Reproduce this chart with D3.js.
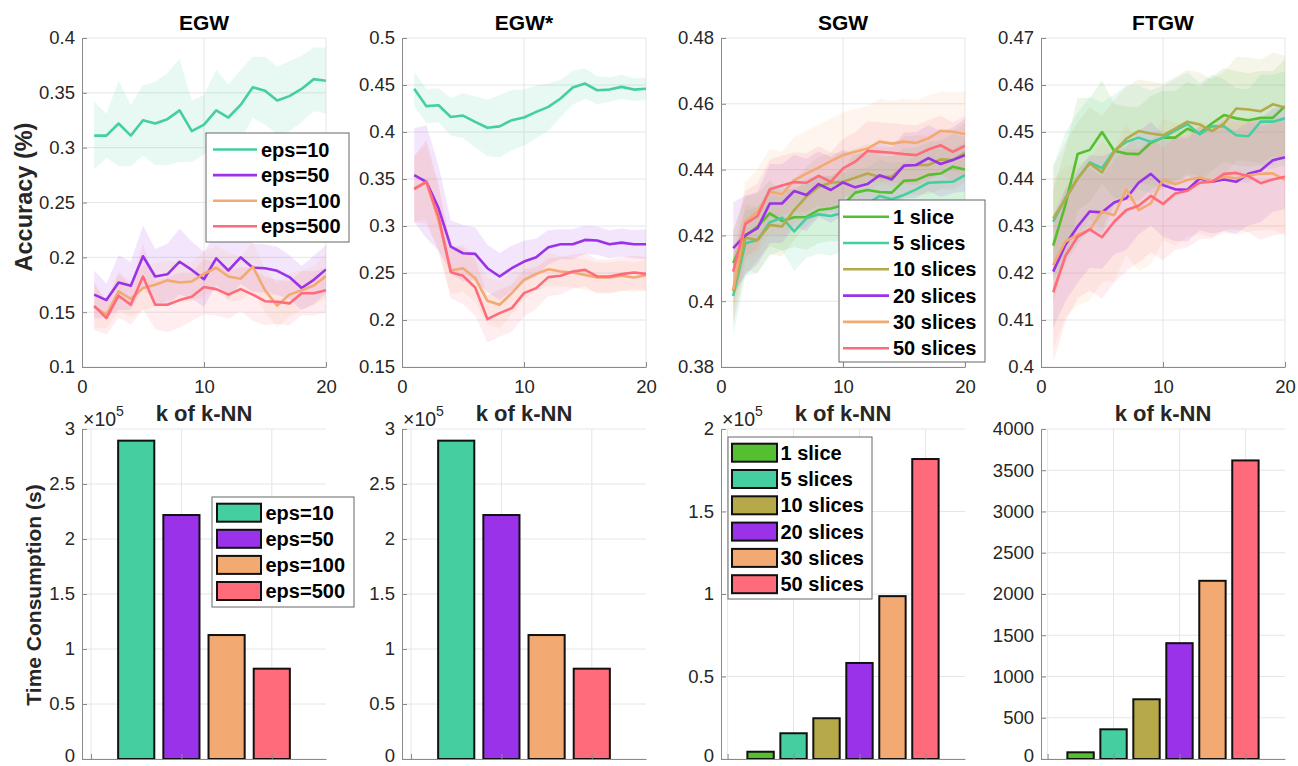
<!DOCTYPE html>
<html><head><meta charset="utf-8">
<script src="https://cdn.jsdelivr.net/npm/d3@7"></script>
<style>body{margin:0;background:#fff}svg{display:block;font-family:"Liberation Sans",Arial,Helvetica,sans-serif}</style>
</head><body><svg id="c" width="1298" height="766"></svg>
<script>
// ---------------- DATA ----------------
const kValues = [1,2,3,4,5,6,7,8,9,10,11,12,13,14,15,16,17,18,19,20];
const epsNames = ["eps=10","eps=50","eps=100","eps=500"];
const sliceNames = ["1 slice","5 slices","10 slices","20 slices","30 slices","50 slices"];
const epsColors = ["#45CFA0","#9932E8","#F2A972","#FF6B7B"];
const sliceColors = ["#55C02F","#45CFA0","#B5A94A","#9932E8","#F2A972","#FF6B7B"];
const panelTitles = ["EGW","EGW*","SGW","FTGW"];

// EGW accuracy (mean, std)
const egw10 = [0.311,0.311,0.322,0.311,0.325,0.322,0.326,0.334,0.315,0.321,0.334,0.3275,0.339,0.355,0.352,0.343,0.347,0.3535,0.3625,0.361];
const egw10sd = [0.031,0.020,0.039,0.028,0.032,0.038,0.042,0.047,0.028,0.027,0.037,0.030,0.032,0.028,0.031,0.031,0.032,0.030,0.029,0.030];
const egw50 = [0.166,0.161,0.177,0.174,0.201,0.1825,0.1845,0.196,0.1885,0.180,0.199,0.188,0.200,0.1905,0.190,0.1877,0.182,0.172,0.1795,0.189];
const egw50sd = [0.022,0.015,0.025,0.022,0.028,0.025,0.028,0.030,0.026,0.025,0.024,0.026,0.024,0.022,0.022,0.022,0.020,0.020,0.022,0.022];
const egw100 = [0.155,0.1475,0.169,0.162,0.172,0.175,0.179,0.177,0.178,0.185,0.1905,0.1825,0.1805,0.1915,0.170,0.156,0.166,0.170,0.1743,0.183];
const egw100sd = [0.020,0.012,0.018,0.016,0.020,0.020,0.018,0.018,0.018,0.020,0.020,0.022,0.020,0.022,0.020,0.020,0.020,0.018,0.018,0.020];
const egw500 = [0.1558,0.1446,0.165,0.1567,0.1825,0.1567,0.1567,0.161,0.164,0.173,0.171,0.166,0.171,0.166,0.160,0.1595,0.158,0.1673,0.1673,0.170];
const egw500sd = [0.022,0.015,0.020,0.018,0.030,0.022,0.025,0.025,0.022,0.025,0.024,0.022,0.020,0.024,0.022,0.020,0.020,0.020,0.020,0.020];

// EGW* accuracy
const egws10 = [0.446,0.4275,0.4285,0.416,0.4175,0.4108,0.4045,0.406,0.4126,0.4154,0.4214,0.4267,0.4356,0.4473,0.4515,0.4444,0.4451,0.448,0.4451,0.446];
const egws10sd = [0.018,0.018,0.018,0.020,0.024,0.027,0.030,0.033,0.032,0.030,0.028,0.025,0.020,0.018,0.016,0.015,0.013,0.013,0.012,0.012];
const egws50 = [0.3542,0.347,0.3188,0.278,0.271,0.2703,0.2551,0.2463,0.2551,0.2622,0.2668,0.2774,0.2806,0.2806,0.2852,0.2845,0.2806,0.2823,0.2806,0.2806];
const egws50sd = [0.050,0.060,0.045,0.028,0.030,0.028,0.025,0.025,0.024,0.022,0.020,0.018,0.016,0.016,0.015,0.015,0.015,0.015,0.015,0.016];
const egws100 = [0.340,0.347,0.306,0.2526,0.2551,0.2445,0.2204,0.2162,0.2286,0.2427,0.2491,0.254,0.2516,0.2505,0.248,0.2452,0.2452,0.247,0.2452,0.2477];
const egws100sd = [0.035,0.040,0.035,0.025,0.025,0.025,0.025,0.025,0.022,0.020,0.018,0.018,0.016,0.016,0.016,0.016,0.016,0.016,0.016,0.016];
const egws500 = [0.3393,0.347,0.3097,0.2509,0.247,0.2346,0.201,0.2073,0.2126,0.2286,0.2339,0.2456,0.247,0.2516,0.2533,0.2463,0.2463,0.2488,0.2505,0.2491];
const egws500sd = [0.035,0.045,0.035,0.028,0.030,0.030,0.025,0.025,0.025,0.025,0.022,0.020,0.020,0.018,0.018,0.018,0.018,0.018,0.018,0.018];

// SGW accuracy
const sgw1 = [0.4116,0.4198,0.4227,0.4267,0.4244,0.4255,0.4256,0.4277,0.4282,0.4292,0.433,0.4338,0.4332,0.433,0.4366,0.4368,0.4384,0.4388,0.4409,0.440];
const sgw1sd = [0.010,0.012,0.010,0.010,0.009,0.009,0.010,0.010,0.010,0.011,0.012,0.012,0.011,0.011,0.010,0.010,0.010,0.010,0.010,0.010];
const sgw5 = [0.4016,0.4176,0.4186,0.424,0.4254,0.4212,0.4252,0.4264,0.4259,0.4269,0.4279,0.4295,0.432,0.431,0.4323,0.434,0.436,0.4362,0.4363,0.4383];
const sgw5sd = [0.012,0.010,0.010,0.010,0.010,0.012,0.012,0.012,0.012,0.012,0.012,0.011,0.011,0.011,0.010,0.010,0.010,0.010,0.010,0.010];
const sgw10 = [0.403,0.4193,0.4186,0.4232,0.4227,0.4277,0.4318,0.4348,0.436,0.4363,0.4375,0.4388,0.4378,0.4378,0.4411,0.4414,0.4414,0.4431,0.4429,0.4451];
const sgw10sd = [0.010,0.010,0.010,0.009,0.009,0.009,0.009,0.009,0.009,0.009,0.009,0.009,0.009,0.009,0.009,0.009,0.009,0.009,0.009,0.009];
const sgw20 = [0.4161,0.4201,0.4222,0.4297,0.4297,0.4335,0.4323,0.4356,0.4338,0.4361,0.4346,0.4356,0.4383,0.437,0.4412,0.4414,0.4435,0.4417,0.4429,0.4444];
const sgw20sd = [0.014,0.012,0.011,0.012,0.012,0.011,0.011,0.010,0.010,0.010,0.010,0.010,0.010,0.010,0.010,0.010,0.010,0.010,0.010,0.011];
const sgw30 = [0.4035,0.4242,0.4272,0.4333,0.4325,0.4368,0.4388,0.4406,0.4426,0.4444,0.4454,0.4464,0.4485,0.4479,0.4485,0.4481,0.4495,0.4518,0.4515,0.4508];
const sgw30sd = [0.010,0.012,0.013,0.013,0.013,0.013,0.013,0.013,0.013,0.013,0.013,0.013,0.013,0.013,0.013,0.013,0.013,0.012,0.012,0.013];
const sgw50 = [0.409,0.4235,0.4259,0.434,0.4352,0.4362,0.436,0.4381,0.4363,0.4404,0.4424,0.4457,0.4454,0.4451,0.4447,0.4444,0.4461,0.4474,0.4454,0.4472];
const sgw50sd = [0.012,0.010,0.010,0.009,0.009,0.009,0.009,0.009,0.009,0.009,0.009,0.009,0.009,0.009,0.009,0.009,0.009,0.009,0.009,0.009];

// FTGW accuracy
const ftgw1 = [0.4258,0.4345,0.4453,0.4462,0.450,0.446,0.4454,0.4453,0.4477,0.4488,0.4488,0.4507,0.4497,0.4518,0.4536,0.4529,0.4525,0.453,0.453,0.4555];
const ftgw1sd = [0.012,0.012,0.012,0.011,0.011,0.010,0.010,0.010,0.010,0.010,0.010,0.010,0.010,0.010,0.010,0.010,0.010,0.010,0.010,0.010];
const ftgw5 = [0.4309,0.4359,0.4401,0.4435,0.4423,0.446,0.4479,0.4488,0.4479,0.4488,0.4503,0.4517,0.4495,0.4512,0.4512,0.4493,0.4491,0.4522,0.4522,0.4529];
const ftgw5sd = [0.012,0.014,0.014,0.014,0.014,0.012,0.012,0.011,0.011,0.011,0.011,0.011,0.011,0.011,0.010,0.010,0.010,0.010,0.010,0.010];
const ftgw10 = [0.4316,0.4357,0.4401,0.4433,0.4414,0.4458,0.4486,0.4502,0.4497,0.4493,0.4507,0.4522,0.4516,0.4502,0.4518,0.455,0.4548,0.4544,0.4559,0.4552];
const ftgw10sd = [0.011,0.012,0.012,0.012,0.012,0.011,0.011,0.011,0.011,0.011,0.011,0.011,0.011,0.011,0.011,0.011,0.011,0.011,0.011,0.011];
const ftgw20 = [0.4203,0.426,0.4299,0.4331,0.4329,0.435,0.4359,0.4392,0.4411,0.4387,0.4378,0.4377,0.4401,0.4394,0.4399,0.4394,0.4411,0.4418,0.444,0.4446];
const ftgw20sd = [0.012,0.012,0.012,0.012,0.012,0.011,0.011,0.011,0.011,0.011,0.011,0.011,0.011,0.011,0.011,0.011,0.011,0.011,0.011,0.011];
const ftgw30 = [0.4217,0.4267,0.4281,0.4292,0.4331,0.4323,0.4378,0.4334,0.4348,0.4399,0.4389,0.4398,0.4403,0.4396,0.4405,0.4401,0.4408,0.4411,0.4412,0.4398];
const ftgw30sd = [0.018,0.016,0.015,0.015,0.015,0.014,0.014,0.013,0.013,0.013,0.013,0.012,0.012,0.012,0.012,0.012,0.012,0.012,0.012,0.012];
const ftgw50 = [0.4159,0.4236,0.4277,0.4293,0.4276,0.4309,0.4334,0.4343,0.4364,0.4347,0.4369,0.4375,0.4392,0.4394,0.4411,0.4413,0.4406,0.4391,0.4399,0.4405];
const ftgw50sd = [0.015,0.014,0.013,0.013,0.013,0.013,0.013,0.012,0.012,0.012,0.012,0.012,0.012,0.012,0.012,0.012,0.012,0.012,0.012,0.012];

// Time consumption (s)
const timeEGW = [289400, 221800, 112700, 82100];
const timeEGWstar = [289400, 221800, 112700, 82100];
const timeSGW = [4400, 15600, 24700, 58200, 98700, 181800];
const timeFTGW = [81, 360, 724, 1404, 2160, 3619];

// Tick values
const accTicks = [
  [0.1,0.15,0.2,0.25,0.3,0.35,0.4],
  [0.15,0.2,0.25,0.3,0.35,0.4,0.45,0.5],
  [0.38,0.4,0.42,0.44,0.46,0.48],
  [0.4,0.41,0.42,0.43,0.44,0.45,0.46,0.47]
];
const kTicks = [0,10,20];
const timeTicks = [
  [0,50000,100000,150000,200000,250000,300000],
  [0,50000,100000,150000,200000,250000,300000],
  [0,50000,100000,150000,200000],
  [0,500,1000,1500,2000,2500,3000,3500,4000]
];

// ---------------- DRAWING ----------------
const svg = d3.select("#c");
svg.append("rect").attr("width",1298).attr("height",766).attr("fill","#fff");

const lefts = [82, 402, 721, 1041];
const W = 244;
const topY0 = 38, topY1 = 367;
const botY0 = 429, botY1 = 759;
const axisCol = "#8a8a8a", gridCol = "#e6e6e6", txtCol = "#262626";
const fmt = v => String(+v.toFixed(4));

const epsMeans = [[egw10,egw50,egw100,egw500],[egws10,egws50,egws100,egws500]];
const epsSds = [[egw10sd,egw50sd,egw100sd,egw500sd],[egws10sd,egws50sd,egws100sd,egws500sd]];
const sliceMeans = [[sgw1,sgw5,sgw10,sgw20,sgw30,sgw50],[ftgw1,ftgw5,ftgw10,ftgw20,ftgw30,ftgw50]];
const sliceSds = [[sgw1sd,sgw5sd,sgw10sd,sgw20sd,sgw30sd,sgw50sd],[ftgw1sd,ftgw5sd,ftgw10sd,ftgw20sd,ftgw30sd,ftgw50sd]];

function styleAxis(g){
  g.select(".domain").attr("stroke",axisCol).attr("stroke-width",1);
  g.selectAll(".tick line").attr("stroke",axisCol);
  g.selectAll(".tick text").attr("fill",txtCol).attr("font-size",18.5).attr("font-family",'"Liberation Sans",Arial,sans-serif');
}

function linePanel(p){
  const x0 = lefts[p];
  const yTicks = accTicks[p];
  const x = d3.scaleLinear().domain([0,20]).range([x0, x0+W]);
  const y = d3.scaleLinear().domain([yTicks[0], yTicks[yTicks.length-1]]).range([topY1, topY0]);
  const g = svg.append("g");
  g.selectAll(".hg").data(yTicks).join("line").attr("x1",x0).attr("x2",x0+W)
    .attr("y1",d=>y(d)).attr("y2",d=>y(d)).attr("stroke",gridCol);
  g.selectAll(".vg").data(kTicks.slice(1)).join("line").attr("y1",topY0).attr("y2",topY1)
    .attr("x1",d=>x(d)).attr("x2",d=>x(d)).attr("stroke",gridCol);
  const cid = "clip"+p;
  svg.append("clipPath").attr("id",cid).append("rect").attr("x",x0).attr("y",topY0).attr("width",W).attr("height",topY1-topY0);
  const plot = g.append("g").attr("clip-path",`url(#${cid})`);
  let means, sds, cols;
  if (p < 2) { means = epsMeans[p]; sds = epsSds[p]; cols = epsColors; }
  else { means = sliceMeans[p-2]; sds = sliceSds[p-2]; cols = sliceColors; }
  const area = d3.area().x((d,i)=>x(kValues[i])).y0(d=>y(d[0]-d[1])).y1(d=>y(d[0]+d[1]));
  means.forEach((m,si)=>{
    const pts = m.map((v,i)=>[v, sds[si][i]]);
    plot.append("path").attr("d",area(pts)).attr("fill",cols[si]).attr("fill-opacity",0.12).attr("stroke","none");
  });
  const line = d3.line().x((d,i)=>x(kValues[i])).y(d=>y(d));
  means.forEach((m,si)=>{
    plot.append("path").attr("d",line(m)).attr("fill","none").attr("stroke",cols[si]).attr("stroke-width",2.6).attr("stroke-linejoin","round");
  });
  const ax = g.append("g").attr("transform",`translate(0,${topY1})`)
    .call(d3.axisBottom(x).tickValues(kTicks).tickSizeInner(-5).tickSizeOuter(0).tickPadding(12.5).tickFormat(d3.format("d")));
  styleAxis(ax);
  const ay = g.append("g").attr("transform",`translate(${x0},0)`)
    .call(d3.axisLeft(y).tickValues(yTicks).tickSizeInner(-5).tickSizeOuter(0).tickPadding(7).tickFormat(fmt));
  styleAxis(ay);
  g.append("text").attr("x",x0+W/2).attr("y",29.5).attr("text-anchor","middle")
    .attr("font-size",21).attr("font-weight","bold").attr("fill","#000").text(panelTitles[p]);
  g.append("text").attr("x",x0+W/2).attr("y",421).attr("text-anchor","middle")
    .attr("font-size",22).attr("font-weight","bold").attr("fill",txtCol).text("k of k-NN");
}

function barPanel(p){
  const x0 = lefts[p];
  const vals = [timeEGW,timeEGWstar,timeSGW,timeFTGW][p];
  const cols = p < 2 ? epsColors : sliceColors;
  const n = vals.length;
  const yTicks = timeTicks[p];
  const x = d3.scaleLinear().domain([-0.2, n+1.2]).range([x0, x0+W]);
  const y = d3.scaleLinear().domain([0, yTicks[yTicks.length-1]]).range([botY1, botY0]);
  const xg = n === 4 ? [0,2,4] : [0,2,4,6];
  const g = svg.append("g");
  g.selectAll(".hg").data(yTicks).join("line").attr("x1",x0).attr("x2",x0+W)
    .attr("y1",d=>y(d)).attr("y2",d=>y(d)).attr("stroke",gridCol);
  g.selectAll(".vg").data(xg).join("line").attr("y1",botY0).attr("y2",botY1)
    .attr("x1",d=>x(d)).attr("x2",d=>x(d)).attr("stroke",gridCol);
  g.selectAll(".bar").data(vals).join("rect")
    .attr("x",(d,i)=>x(i+1-0.4)).attr("width",(d,i)=>x(i+1+0.4)-x(i+1-0.4))
    .attr("y",d=>y(d)).attr("height",d=>botY1-y(d))
    .attr("fill",(d,i)=>cols[i]).attr("stroke","#111").attr("stroke-width",2);
  const ax = g.append("g").attr("transform",`translate(0,${botY1})`)
    .call(d3.axisBottom(x).tickValues(xg).tickSizeInner(-5).tickSizeOuter(0).tickFormat(""));
  styleAxis(ax);
  const scaled = p < 3;
  const ay = g.append("g").attr("transform",`translate(${x0},0)`)
    .call(d3.axisLeft(y).tickValues(yTicks).tickSizeInner(-5).tickSizeOuter(0).tickPadding(7)
      .tickFormat(d => scaled ? fmt(d/1e5) : String(d)));
  styleAxis(ay);
  ay.selectAll(".tick text").filter(d => d === 0).attr("dy","0.12em");
  if (scaled) {
    const t = g.append("text").attr("x",x0+1).attr("y",425.5).attr("font-size",19.5).attr("fill",txtCol);
    t.append("tspan").text("\u00d710");
    t.append("tspan").attr("dy",-10).attr("font-size",14).text("5");
  }
}

function lineLegend(names, cols, bx, by, bw, bh, firstY, step, lx0, lx1, tx){
  const g = svg.append("g");
  g.append("rect").attr("x",bx).attr("y",by).attr("width",bw).attr("height",bh)
    .attr("fill","#fff").attr("stroke","#666").attr("stroke-width",1);
  names.forEach((nm,i)=>{
    const yy = firstY + i*step;
    g.append("line").attr("x1",lx0).attr("x2",lx1).attr("y1",yy).attr("y2",yy).attr("stroke",cols[i]).attr("stroke-width",2.6);
    g.append("text").attr("x",tx).attr("y",yy+7).attr("font-size",20).attr("font-weight","bold").attr("fill","#000").text(nm);
  });
}
function barLegend(names, cols, bx, by, bw, bh, firstY, step, sx0, sx1, tx){
  const g = svg.append("g");
  g.append("rect").attr("x",bx).attr("y",by).attr("width",bw).attr("height",bh)
    .attr("fill","#fff").attr("stroke","#666").attr("stroke-width",1);
  names.forEach((nm,i)=>{
    const yy = firstY + i*step;
    g.append("rect").attr("x",sx0).attr("y",yy-9).attr("width",sx1-sx0).attr("height",18)
      .attr("fill",cols[i]).attr("stroke","#111").attr("stroke-width",2);
    g.append("text").attr("x",tx).attr("y",yy+7).attr("font-size",20).attr("font-weight","bold").attr("fill","#000").text(nm);
  });
}

[0,1,2,3].forEach(linePanel);
[0,1,2,3].forEach(barPanel);

svg.append("text").attr("transform","translate(32,197) rotate(-90)").attr("text-anchor","middle")
  .attr("font-size",23.5).attr("font-weight","bold").attr("fill",txtCol).text("Accuracy (%)");
svg.append("text").attr("transform","translate(40.5,595) rotate(-90)").attr("text-anchor","middle")
  .attr("font-size",21).attr("font-weight","bold").attr("fill",txtCol).text("Time Consumption (s)");

lineLegend(epsNames, epsColors, 206, 133, 143, 109, 149.5, 25.6, 213, 257, 261);
lineLegend(sliceNames, sliceColors, 839, 200, 146, 162, 216.7, 26.3, 843, 889, 893);
barLegend(epsNames, epsColors, 212, 497, 142, 110, 512.7, 26.1, 217, 261, 265.5);
barLegend(sliceNames, sliceColors, 728, 437, 144, 162, 452.7, 26.3, 732, 777, 780.5);
</script></body></html>
